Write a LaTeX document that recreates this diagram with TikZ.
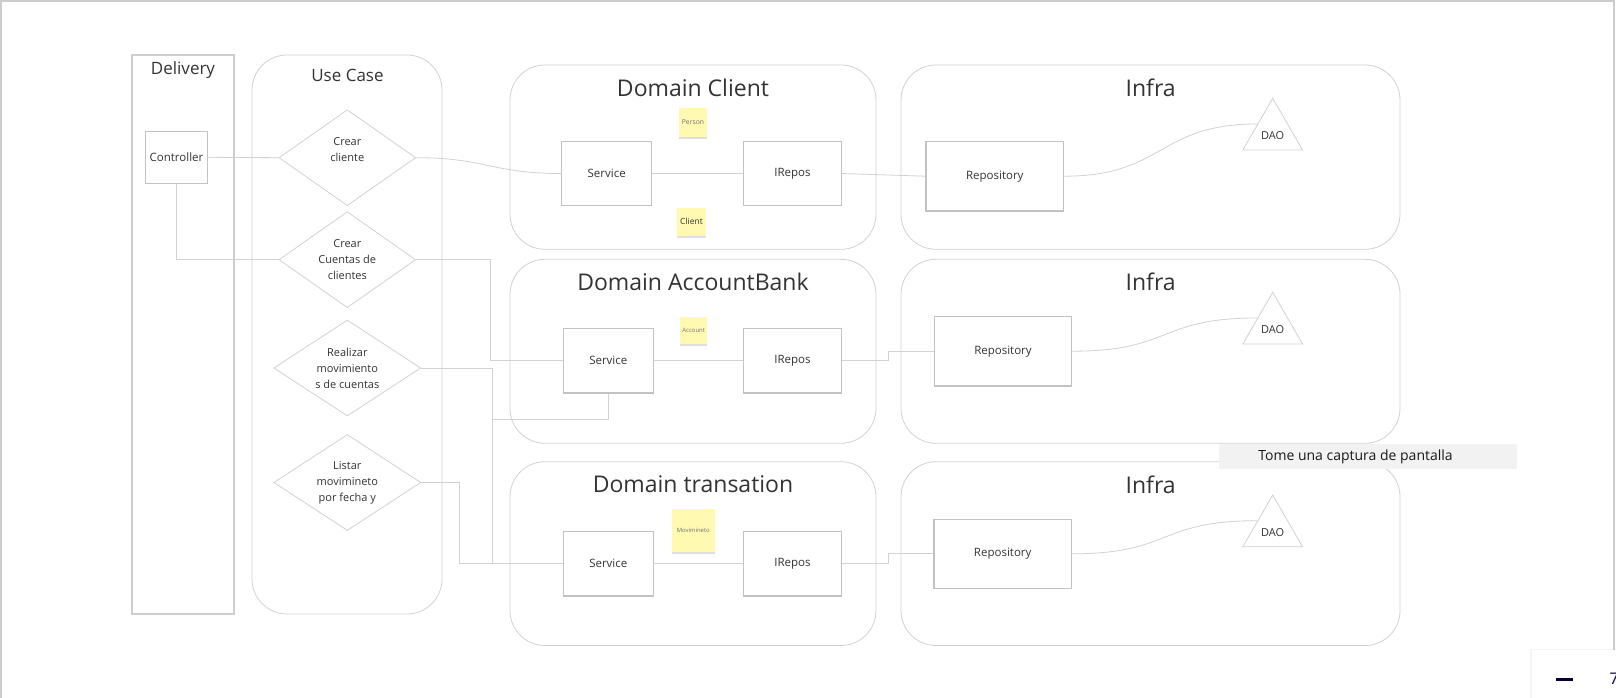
\documentclass[tikz,border=0pt]{standalone}
\usepackage{fontspec}
\setmainfont{Open Sans}
\usepackage{tikz}
\usetikzlibrary{shapes.geometric,positioning,calc,shadows}

\definecolor{linegray}{HTML}{D2D2D2}
\definecolor{boxgray}{HTML}{C2C2C2}
\definecolor{inkgray}{HTML}{333333}
\definecolor{notey}{HTML}{FFF9B1}
\definecolor{navy}{HTML}{050038}

\begin{document}
\begin{tikzpicture}[
  x={(1pt,0pt)},
  y={(0pt,-1pt)},
  cont/.style={draw=linegray, line width=0.8pt, rounded corners=35pt},
  box/.style={draw=boxgray, line width=1.2pt, fill=white, inner sep=0pt, text=inkgray, font=\fontsize{11.5}{13}\selectfont},
  uc/.style={draw=linegray, line width=0.8pt, shape=diamond, aspect=1.45, inner sep=0pt, align=center, text=inkgray, font=\fontsize{11}{16}\selectfont},
  title/.style={text=inkgray, inner sep=0pt},
  note/.style={fill=notey, inner sep=0pt, drop shadow={opacity=0.25, shadow xshift=0pt, shadow yshift=-2pt}},
  dao/.style={draw=linegray, line width=0.8pt, regular polygon, regular polygon sides=3, minimum size=69pt, inner sep=0pt, text=inkgray, font=\fontsize{11}{13}\selectfont},
  conn/.style={draw=linegray, line width=0.8pt}
]
\useasboundingbox (0,0) rectangle (1616,698);
\fill[white] (0,0) rectangle (1616,698);
\draw[black!20, line width=1.2pt] (1,698) -- (1,1) -- (1614,1) -- (1614,650);

\draw[boxgray!80, line width=1.1pt] (132,55) rectangle (234,614);
\node[title, font=\fontsize{17}{20}\selectfont] (delivery) at (183,70.5) {Delivery};
\draw[cont] (252,55) rectangle (442,614);
\node[title, font=\fontsize{17}{20}\selectfont] (usecase) at (347.5,75.5) {Use Case};

\foreach \t/\b in {65/249.3, 259.3/443.3, 461.7/645.5} {
  \draw[cont] (510,\t) rectangle (876,\b);
  \draw[cont] (901,\t) rectangle (1400,\b);
}
\node[title, font=\fontsize{23}{26}\selectfont] (dclient) at (693,87.7) {Domain Client};
\node[title, font=\fontsize{23}{26}\selectfont] (daccount) at (693,281.7) {Domain AccountBank};
\node[title, font=\fontsize{23}{26}\selectfont] (dtrans) at (693,484.3) {Domain transation};
\node[title, font=\fontsize{23}{26}\selectfont] (infra1) at (1150.7,87.7) {Infra};
\node[title, font=\fontsize{23}{26}\selectfont] (infra2) at (1150.7,281.7) {Infra};
\node[title, font=\fontsize{23}{26}\selectfont] (infra3) at (1150.7,485) {Infra};

\node[box, minimum width=61.6pt, minimum height=52pt] (ctrl) at (176.5,157.3) {Controller};
\node[uc, minimum width=136.7pt, minimum height=96pt] (uc1) at (347.3,157.7) {Crear\\cliente\\\mbox{}};
\node[uc, minimum width=136.7pt, minimum height=96pt] (uc2) at (347.3,259.7) {Crear\\Cuentas de\\clientes};
\node[uc, minimum width=147pt, minimum height=96pt] (uc3) at (347.3,368) {Realizar\\movimiento\\s de cuentas};
\node[uc, minimum width=147pt, minimum height=96pt] (uc4) at (347.3,482.5) {Listar\\movimineto\\por fecha y};

\node[box, minimum width=90pt, minimum height=64.4pt] (svc1) at (606.7,173.5) {Service};
\node[box, minimum width=97.6pt, minimum height=64.4pt] (rep1) at (792.5,173.5) {IRepos};
\node[box, minimum width=90pt, minimum height=64.7pt] (svc2) at (608.3,360.7) {Service};
\node[box, minimum width=97.6pt, minimum height=64.7pt] (rep2) at (792.5,360.7) {IRepos};
\node[box, minimum width=90pt, minimum height=64.7pt] (svc3) at (608.3,563.7) {Service};
\node[box, minimum width=97.6pt, minimum height=64.7pt] (rep3) at (792.5,563.7) {IRepos};

\node[box, minimum width=137.7pt, minimum height=69.7pt] (repo1) at (994.8,176.2) {Repository};
\node[box, minimum width=137.4pt, minimum height=69.7pt] (repo2) at (1003,351.2) {Repository};
\node[box, minimum width=137.4pt, minimum height=69pt] (repo3) at (1002.7,553.8) {Repository};
\node[dao] (dao1) at (1272.7,132.8) {\raisebox{-7pt}[0pt][0pt]{DAO}};
\node[dao] (dao2) at (1272.7,326.8) {\raisebox{-7pt}[0pt][0pt]{DAO}};
\node[dao] (dao3) at (1272.7,529.5) {\raisebox{-7pt}[0pt][0pt]{DAO}};

\node[note, minimum width=27.4pt, minimum height=28.4pt, text=black!55, font=\fontsize{6.8}{8}\selectfont] (person) at (693,122.5) {Person};
\node[note, minimum width=28.4pt, minimum height=27.7pt, text=inkgray, font=\fontsize{8.5}{10}\selectfont] (client) at (691.5,221.8) {Client};
\node[note, minimum width=27.3pt, minimum height=27.3pt, text=black!55, font=\fontsize{6}{7}\selectfont] (account) at (693.7,330.7) {Account};
\node[note, minimum width=42.7pt, minimum height=42.7pt, text=black!55, font=\fontsize{5.9}{7}\selectfont] (movim) at (693.3,530.3) {Movimineto};

\draw[conn] (ctrl.east) -- (uc1.west);
\draw[conn] (ctrl.south) |- (uc2.west);
\draw[conn] (uc1.east) .. controls +(70,0) and +(-70,0) .. (svc1.west);
\draw[conn] (uc2.east) -- ++(74,0) |- (svc2.west);
\draw[conn] (uc3.east) -- ++(71,0) |- (svc3.west);
\draw[conn] (uc3.east) -- ++(71,0) |- ([yshift=-25.5pt]svc2.south) -- (svc2.south);
\draw[conn] (uc4.east) -- ++(38,0) |- (svc3.west);
\foreach \i in {1,2,3}
  \draw[conn] (svc\i) -- (rep\i);
\draw[conn] (rep1.east) -- (repo1.west);
\draw[conn] (rep2.east) -- ++(46.4,0) |- (repo2.west);
\draw[conn] (rep3.east) -- ++(46.4,0) |- (repo3.west);
\foreach \i in {1,2,3}
  \draw[conn] (repo\i.east) .. controls +(100,0) and +(-100,0) .. (dao\i.side 1);

\node[fill=black!5, rounded corners=2pt, minimum width=298pt, minimum height=25pt, inner sep=0pt, text=black!90, font=\fontsize{14}{16}\selectfont] (shot) at (1368,456.5) {Tome una captura de pantalla\hspace*{25pt}};

\node[fill=white, anchor=north west, minimum width=90pt, minimum height=55pt, drop shadow={opacity=0.08, shadow xshift=-2pt, shadow yshift=1pt}] (zoompanel) at (1532,649.3) {};
\draw[navy, line width=3pt] (1556,679.3) -- (1573.3,679.3);
\node[anchor=west, inner sep=0pt, text=navy, font=\fontsize{16}{18}\selectfont] (zoomval) at (1609.5,679) {7};
\end{tikzpicture}
\end{document}
